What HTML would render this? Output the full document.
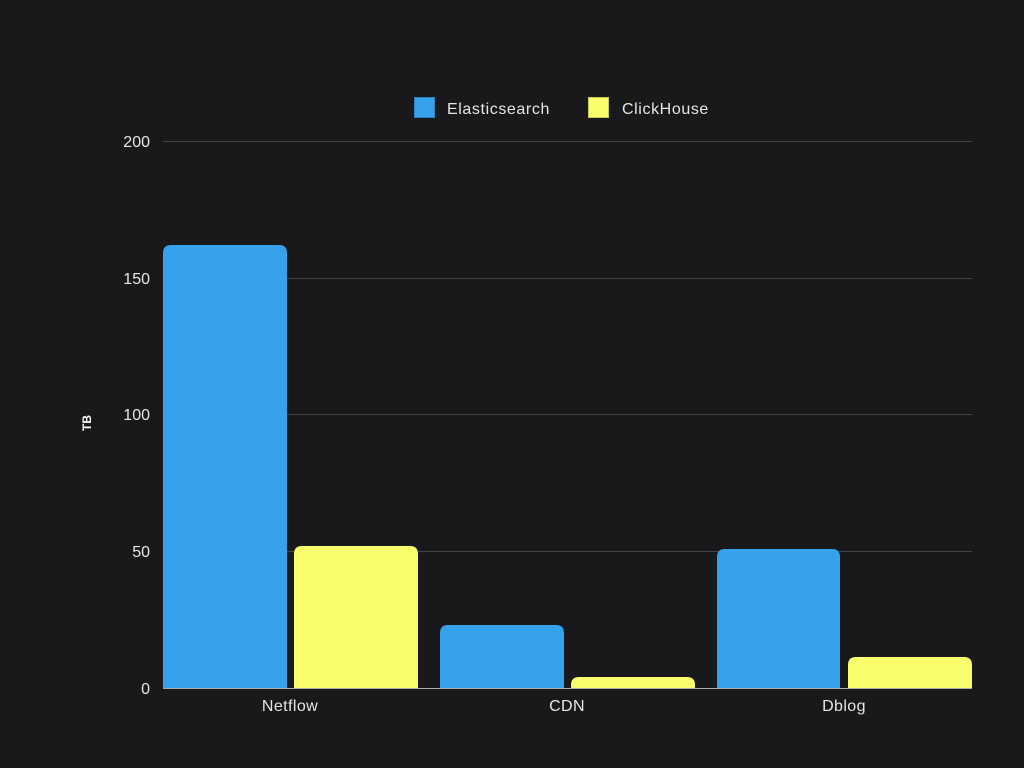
<!DOCTYPE html>
<html><head><meta charset="utf-8"><style>
html,body{margin:0;padding:0;background:#19191b;}
svg{display:block;font-family:"Liberation Sans",sans-serif;}
</style></head><body>
<svg width="1024" height="768" viewBox="0 0 1024 768">
<rect width="1024" height="768" fill="#19191b"/>
<g stroke="#444446" stroke-width="1">
<line x1="163" y1="141.5" x2="972" y2="141.5"/>
<line x1="163" y1="278.5" x2="972" y2="278.5"/>
<line x1="163" y1="414.5" x2="972" y2="414.5"/>
<line x1="163" y1="551.5" x2="972" y2="551.5"/>
</g>
<g fill="#e6e6e6" font-size="16" text-anchor="end">
<text x="150" y="147">200</text>
<text x="150" y="284">150</text>
<text x="150" y="420">100</text>
<text x="150" y="557">50</text>
<text x="150" y="694">0</text>
</g>
<text transform="translate(91,423) rotate(-90)" fill="#fff" font-size="12" font-weight="bold" text-anchor="middle">TB</text>
<g>
<path d="M163,688 V253 Q163,245 171,245 H279 Q287,245 287,253 V688Z" fill="#36a2eb"/>
<path d="M294,688 V554 Q294,546 302,546 H410 Q418,546 418,554 V688Z" fill="#f8fe6c"/>
<path d="M440,688 V633 Q440,625 448,625 H556 Q564,625 564,633 V688Z" fill="#36a2eb"/>
<path d="M571,688 V685 Q571,677 579,677 H687 Q695,677 695,685 V688Z" fill="#f8fe6c"/>
<path d="M717,688 V557 Q717,549 725,549 H832 Q840,549 840,557 V688Z" fill="#36a2eb"/>
<path d="M848,688 V665 Q848,657 856,657 H964 Q972,657 972,665 V688Z" fill="#f8fe6c"/>
</g>
<line x1="163" y1="688.5" x2="972" y2="688.5" stroke="#aaaaaa" stroke-width="1"/>
<g fill="#e6e6e6" font-size="16" text-anchor="middle" letter-spacing="0.4">
<text x="290" y="711">Netflow</text>
<text x="567" y="711">CDN</text>
<text x="844" y="711">Dblog</text>
</g>
<rect x="414.5" y="97.5" width="20" height="20" fill="#36a2eb" stroke="#2a80c0"/>
<text x="447" y="114" fill="#e6e6e6" font-size="16" letter-spacing="0.6">Elasticsearch</text>
<rect x="588.5" y="97.5" width="20" height="20" fill="#f8fe6c" stroke="#c8cc50"/>
<text x="622" y="114" fill="#e6e6e6" font-size="16" letter-spacing="0.6">ClickHouse</text>
</svg>
</body></html>
